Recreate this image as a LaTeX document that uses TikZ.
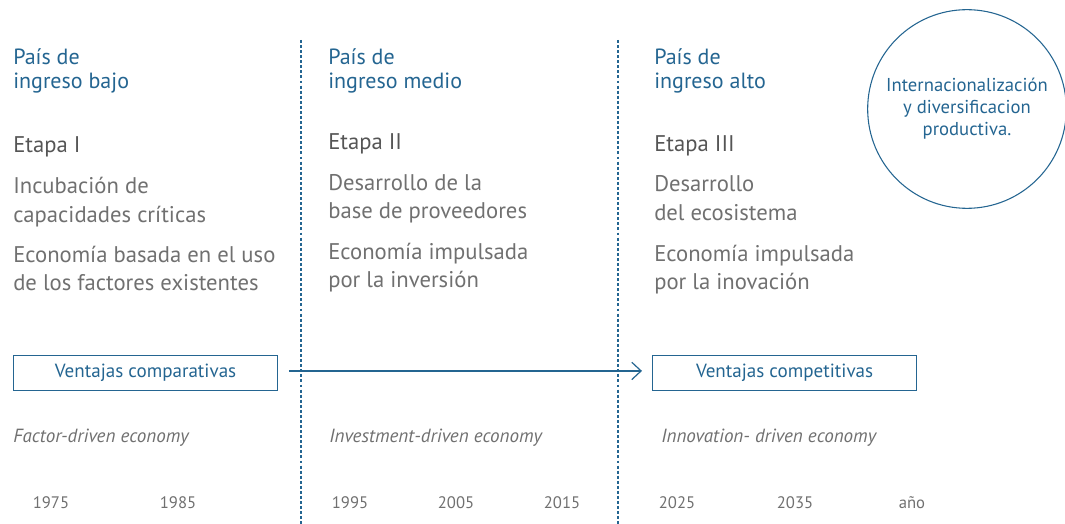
\documentclass[tikz,border=0pt]{standalone}
\usepackage{fontspec}
\setmainfont{PT Sans}
\usepackage{tikz}
\usetikzlibrary{arrows.meta, positioning}
\definecolor{ingresocolor}{RGB}{36,101,145}
\definecolor{etapacolor}{RGB}{85,85,85}
\definecolor{textocolor}{RGB}{112,112,112}

\begin{document}
\begin{tikzpicture}[
    x=0.75pt, y=-0.75pt,
    ingreso/.style={anchor=base west, inner sep=0pt, text=ingresocolor, font=\fontsize{16.5}{18}\selectfont},
    etapa/.style={anchor=base west, inner sep=0pt, text=etapacolor, font=\fontsize{17}{18}\selectfont},
    desc/.style={anchor=base west, inner sep=0pt, text=textocolor, font=\fontsize{17}{18}\selectfont},
    ventaja/.style={draw=ingresocolor, line width=0.9pt, text=ingresocolor, anchor=north west, minimum width=198pt, minimum height=26pt, inner sep=0pt, font=\fontsize{14.3}{15}\selectfont},
    economy/.style={anchor=base west, inner sep=0pt, text=textocolor, font=\fontsize{14.3}{15}\selectfont\itshape},
    year/.style={anchor=base, inner sep=0pt, text=textocolor, font=\fontsize{12.5}{14}\selectfont},
    divider/.style={draw=ingresocolor, line width=0.8pt, dash pattern=on 2.2pt off 1.6pt},
    arrow/.style={-{Straight Barb[length=7pt, width=13pt]}, draw=ingresocolor, line width=0.9pt}
]
    \useasboundingbox (0,0) rectangle (1065,524);

    % Dividers
    \coordinate (d1top) at (301,40);
    \coordinate (d1bot) at (301,524);
    \coordinate (d2top) at (618,40);
    \coordinate (d2bot) at (618,524);
    \draw[divider] (d1top) -- (d1bot);
    \draw[divider] (d2top) -- (d2bot);

    % Column I
    \node[ingreso] (pais1a) at (13,65) {País de};
    \node[ingreso] (pais1b) at (13,89) {ingreso bajo};
    \node[etapa] (etapa1) at (13,153) {Etapa I};
    \node[desc] (inc1a) at (13,194) {Incubación de};
    \node[desc] (inc1b) at (13,223) {capacidades críticas};
    \node[desc] (eco1a) at (13,263) {Economía basada en el uso};
    \node[desc] (eco1b) at (13,291) {de los factores existentes};

    % Column II
    \node[ingreso] (pais2a) at (328,65) {País de};
    \node[ingreso] (pais2b) at (328,89) {ingreso medio};
    \node[etapa] (etapa2) at (328,150) {Etapa II};
    \node[desc] (des2a) at (328,191) {Desarrollo de la};
    \node[desc] (des2b) at (328,219) {base de proveedores};
    \node[desc] (eco2a) at (328,260) {Economía impulsada};
    \node[desc] (eco2b) at (328,288) {por la inversión};

    % Column III
    \node[ingreso] (pais3a) at (654,65) {País de};
    \node[ingreso] (pais3b) at (654,89) {ingreso alto};
    \node[etapa] (etapa3) at (654,152) {Etapa III};
    \node[desc] (des3a) at (654,192) {Desarrollo};
    \node[desc] (des3b) at (654,221) {del ecosistema};
    \node[desc] (eco3a) at (654,262) {Economía impulsada};
    \node[desc] (eco3b) at (654,290) {por la inovación};

    % Circle
    \node[draw=ingresocolor, line width=0.8pt, circle, minimum size=149pt, inner sep=0pt, text=ingresocolor, align=center, font=\fontsize{14}{16.5}\selectfont] (intl) at (967,109) {Internacionalización\\y diversificacion\\productiva.};

    % Ventajas
    \node[ventaja] (comp) at (13,355) {Ventajas comparativas};
    \node[ventaja] (compet) at (652,355) {Ventajas competitivas};
    \draw[arrow, shorten <=8pt, shorten >=7.5pt] ([yshift=1.5pt]comp.east) -- ([yshift=1.5pt]compet.west);

    % Economy types
    \node[economy] (factor) at (13,442) {Factor-driven economy};
    \node[economy] (invest) at (329,442) {Investment-driven economy};
    \node[economy] (innov) at (661,442) {Innovation- driven economy};

    % Years
    \node[year] (y1975) at (51,508) {1975};
    \node[year] (y1985) at (178,508) {1985};
    \node[year] (y1995) at (350,508) {1995};
    \node[year] (y2005) at (456,508) {2005};
    \node[year] (y2015) at (562,508) {2015};
    \node[year] (y2025) at (677,508) {2025};
    \node[year] (y2035) at (795,508) {2035};
    \node[year] (yano) at (912,508) {año};
\end{tikzpicture}
\end{document}
